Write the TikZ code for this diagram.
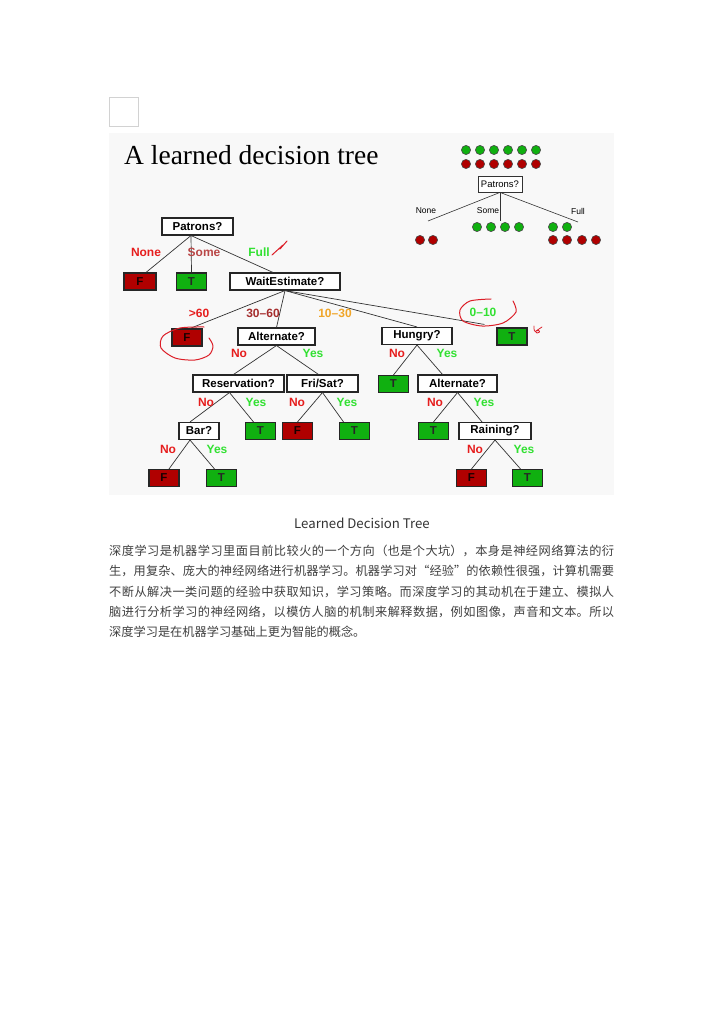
\documentclass[tikz,border=0pt]{standalone}
\usepackage{fontspec}
\setmainfont{Liberation Sans}
\newfontfamily\titlefont{Liberation Serif}
\newfontfamily\cjkfont{Noto Sans CJK SC}
\XeTeXlinebreaklocale "zh"
\XeTeXlinebreakskip=0pt plus 1pt
\usepackage{tikz}
\usetikzlibrary{positioning}

\definecolor{leafred}{RGB}{176,0,0}
\definecolor{leafgreen}{RGB}{16,176,16}
\definecolor{nored}{RGB}{230,30,30}
\definecolor{yesgreen}{RGB}{50,225,50}
\definecolor{somered}{RGB}{185,70,70}
\definecolor{midred}{RGB}{165,45,45}
\definecolor{waitorange}{RGB}{240,165,40}
\definecolor{inkred}{RGB}{220,30,40}
\definecolor{panelgray}{RGB}{248,248,248}

\tikzset{
  question/.style={
    rectangle, draw=black!85, fill=white, line width=1.1pt,
    minimum height=17pt, inner sep=0pt,
    font=\bfseries\fontsize{11.5}{12}\selectfont
  },
  falseleaf/.style={
    rectangle, draw=black!85, fill=leafred, line width=1.1pt,
    minimum width=30pt, minimum height=17pt, inner sep=0pt,
    text=black!90!red, font=\bfseries\fontsize{11.5}{12}\selectfont
  },
  trueleaf/.style={falseleaf, fill=leafgreen, text=black!85},
  branch/.style={draw=black!80, line width=0.7pt},
  nolabel/.style={inner sep=0pt, text=nored, font=\bfseries\fontsize{12}{12}\selectfont},
  yeslabel/.style={nolabel, text=yesgreen},
  minibox/.style={
    rectangle, draw=black!80, fill=white, line width=0.8pt,
    minimum width=44pt, minimum height=16pt, inner sep=0pt,
    font=\fontsize{9.5}{10}\selectfont
  },
  minilabel/.style={inner sep=0pt, font=\fontsize{8.5}{9}\selectfont},
  minibranch/.style={draw=black!80, line width=0.6pt},
  goodball/.style={fill=leafgreen, draw=black!70, line width=0.6pt},
  badball/.style={fill=leafred, draw=black!70, line width=0.6pt},
  ink/.style={draw=inkred, line width=1pt, line cap=round, line join=round},
}

\begin{document}
\begin{tikzpicture}[x=1pt, y=-1pt]
  \useasboundingbox (0,0) rectangle (724,1024);
  \fill[white] (0,0) rectangle (724,1024);

  % screenshot frame
  \draw[gray!35, fill=white] (109,97) rectangle (138,126);
  \fill[panelgray] (109,133) rectangle (614,495);
  \node[anchor=base west, inner sep=0pt, font=\titlefont\fontsize{27.5}{28}\selectfont] (title) at (124,165) {A learned decision tree};

  % small example tree
  \foreach \i in {0,...,5} {
    \path[goodball] (466+14*\i,150) circle (4.6);
    \path[badball] (466+14*\i,164) circle (4.6);
  }
  \node[minibox] (mpatrons) at (500,184) {Patrons?};
  \coordinate (mnone) at (428,221);
  \coordinate (msome) at (500,221);
  \coordinate (mfull) at (578,222);
  \draw[minibranch] (mpatrons.south) -- (mnone);
  \draw[minibranch] (mpatrons.south) -- (msome);
  \draw[minibranch] (mpatrons.south) -- (mfull);
  \node[minilabel] (mnonelbl) at (426,211) {None};
  \node[minilabel] (msomelbl) at (488,211) {Some};
  \node[minilabel] (mfulllbl) at (578,211) {Full};
  \foreach \x in {420,433} \path[badball] (\x,240) circle (4.6);
  \foreach \x in {477,491,505,519} \path[goodball] (\x,227) circle (4.6);
  \foreach \x in {553,567} \path[goodball] (\x,227) circle (4.6);
  \foreach \x in {553,567,582,596} \path[badball] (\x,240) circle (4.6);

  % learned tree
  \node[question, minimum width=71pt] (patrons) at (197.5,226.5) {Patrons?};
  \node[falseleaf, minimum width=32pt] (pnone) at (140,281.5) {F};
  \node[trueleaf] (psome) at (191.5,281.5) {T};
  \node[question, minimum width=110pt] (wait) at (285,281.5) {WaitEstimate?};
  \node[falseleaf] (wover) at (187,337.5) {F};
  \node[question, minimum width=77pt] (alt) at (276.5,336.5) {Alternate?};
  \node[question, minimum width=70pt] (hungry) at (417,336) {Hungry?};
  \node[trueleaf] (wshort) at (512,336.5) {T};
  \node[question, minimum width=91pt] (reserv) at (238.5,383.5) {Reservation?};
  \node[question, minimum width=71pt] (frisat) at (322.5,383.5) {Fri/Sat?};
  \node[trueleaf] (hno) at (393.5,384) {T};
  \node[question, minimum width=79pt] (alttwo) at (457.5,383.5) {Alternate?};
  \node[question, minimum width=40pt] (bar) at (199,431) {Bar?};
  \node[trueleaf] (ryes) at (260.5,431) {T};
  \node[falseleaf] (fno) at (297.5,431) {F};
  \node[trueleaf] (fyes) at (354.5,431) {T};
  \node[trueleaf] (ano) at (433.5,431) {T};
  \node[question, minimum width=72pt] (rain) at (495,431) {Raining?};
  \node[falseleaf] (bno) at (164,478) {F};
  \node[trueleaf] (byes) at (221.5,478) {T};
  \node[falseleaf] (rno) at (471.5,478) {F};
  \node[trueleaf] (rainyes) at (527.5,478) {T};

  \draw[branch] ([xshift=-6.5pt]patrons.south) -- ([xshift=6pt]pnone.north);
  \draw[branch] ([xshift=-6.5pt]patrons.south) -- (psome.north);
  \draw[branch] ([xshift=-6.5pt]patrons.south) -- ([xshift=-12pt]wait.north);
  \draw[branch] (wait.south) -- ([xshift=3pt]wover.north);
  \draw[branch] (wait.south) -- (alt.north);
  \draw[branch] (wait.south) -- (hungry.north);
  \draw[branch] (wait.south) -- ([xshift=-12pt,yshift=3pt]wshort.north west);
  \draw[branch] (alt.south) -- ([xshift=-5pt]reserv.north);
  \draw[branch] (alt.south) -- ([xshift=-4pt]frisat.north);
  \draw[branch] (hungry.south) -- (hno.north);
  \draw[branch] (hungry.south) -- ([xshift=-15pt]alttwo.north);
  \draw[branch] ([xshift=-9pt]reserv.south) -- ([xshift=-9pt]bar.north);
  \draw[branch] ([xshift=-9pt]reserv.south) -- ([xshift=-7pt]ryes.north);
  \draw[branch] (frisat.south) -- (fno.north);
  \draw[branch] (frisat.south) -- ([xshift=-11pt]fyes.north);
  \draw[branch] (alttwo.south) -- (ano.north);
  \draw[branch] (alttwo.south) -- ([xshift=-13pt]rain.north);
  \draw[branch] ([xshift=-9pt]bar.south) -- ([xshift=5pt]bno.north);
  \draw[branch] ([xshift=-9pt]bar.south) -- ([xshift=-7pt]byes.north);
  \draw[branch] (rain.south) -- (rno.north);
  \draw[branch] (rain.south) -- ([xshift=-7pt]rainyes.north);

  % branch values
  \node[nolabel] (lnone) at (146,252) {None};
  \node[nolabel, text=somered] (lsome) at (204,252) {Some};
  \node[yeslabel] (lfull) at (259,252) {Full};
  \node[nolabel] (lover) at (199,313) {>60};
  \node[nolabel, text=midred] (lmid) at (263,313) {30--60};
  \node[nolabel, text=waitorange] (lshort) at (335,313) {10--30};
  \node[yeslabel] (lmin) at (483,312) {0--10};
  \node[nolabel] (altno) at (239,353) {No};
  \node[yeslabel] (altyes) at (313,353) {Yes};
  \node[nolabel] (hunno) at (397,353) {No};
  \node[yeslabel] (hunyes) at (447,353) {Yes};
  \node[nolabel] (resno) at (206,402) {No};
  \node[yeslabel] (resyes) at (256,402) {Yes};
  \node[nolabel] (frino) at (297,402) {No};
  \node[yeslabel] (friyes) at (347,402) {Yes};
  \node[nolabel] (alttwono) at (435,402) {No};
  \node[yeslabel] (alttwoyes) at (484,402) {Yes};
  \node[nolabel] (barno) at (168,449) {No};
  \node[yeslabel] (baryes) at (217,449) {Yes};
  \node[nolabel] (rainno) at (475,449) {No};
  \node[yeslabel] (rainyeslbl) at (524,449) {Yes};

  % red pen marks
  \draw[ink] plot[smooth] coordinates {(204,327) (180,328) (163,336) (161,348) (175,358) (195,360) (209,355) (213,346) (209,338)};
  \draw[ink] plot[smooth] coordinates {(491,299) (470,301) (460,310) (463,321) (482,326) (503,323) (516,312) (513,301)};
  \draw[ink] (272,255) -- (283,245) -- (280,249) -- (287,241);
  \draw[ink, line width=0.8pt] (534,326) .. controls (534,331) .. (537,333) .. controls (541,333) and (540,329) .. (536,331) -- (542,327);

  % caption and paragraph
  \node[anchor=base, inner sep=0pt, text=black!80, font=\cjkfont\fontsize{13.2}{15}\selectfont] (caption) at (362,528) {Learned Decision Tree};
  \node[anchor=north west, inner sep=0pt, text width=505pt, align=justify, text=black!75,
        font=\cjkfont\fontsize{12.2}{20.2}\selectfont] (para) at (109,545)
    {深度学习是机器学习里面目前比较火的一个方向（也是个大坑），本身是神经网络算法的衍\linebreak
     生，用复杂、庞大的神经网络进行机器学习。机器学习对“经验”的依赖性很强，计算机需要\linebreak
     不断从解决一类问题的经验中获取知识，学习策略。而深度学习的其动机在于建立、模拟人\linebreak
     脑进行分析学习的神经网络，以模仿人脑的机制来解释数据，例如图像，声音和文本。所以\linebreak
     深度学习是在机器学习基础上更为智能的概念。};
\end{tikzpicture}
\end{document}
